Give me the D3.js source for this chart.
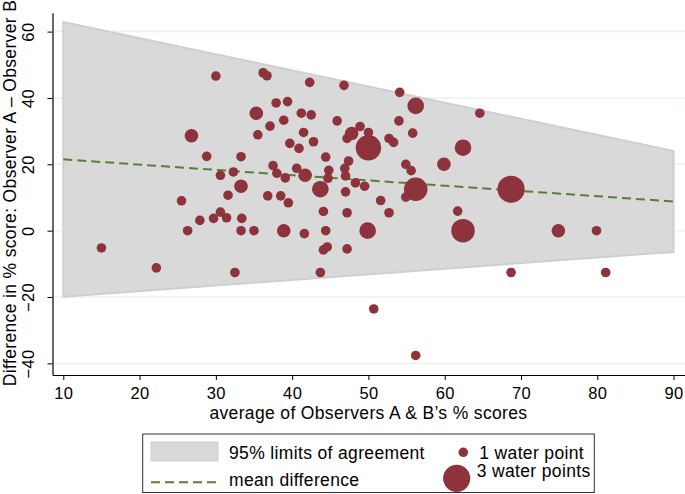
<!DOCTYPE html>
<html>
<head>
<meta charset="utf-8">
<script src="https://cdn.jsdelivr.net/npm/d3@7"></script>
<style>
  body { margin: 0; background: #fff; }
  text { font-family: "Liberation Sans", Arial, Helvetica, sans-serif; fill: #000; letter-spacing: 0.35px; }
</style>
</head>
<body>
<div id="chart-container"></div>
<script>
// BLAND-ALTMAN PLOT

// Data

var avgScore = [30.0, 26.8, 28.8, 33.3, 30.6, 32.3, 33.3, 31.6, 25.5, 35.3,
                36.2, 36.7, 42.3, 46.8, 54.1, 56.2, 37.9, 39.4, 41.2, 42.5,
                45.9, 54.0, 37.1, 38.9, 35.5, 41.5, 42.8, 39.7, 40.9, 48.9,
                50.0, 47.8, 47.2, 50.0, 52.7, 53.3, 55.8, 59.9, 37.5, 38.0,
                39.1, 40.6, 41.7, 44.4, 47.4, 44.8, 44.7, 46.9, 47.0, 48.3,
                49.5, 43.7, 47.0, 54.9, 55.6, 56.2, 54.9, 51.6, 52.7, 36.8,
                38.5, 39.5, 44.1, 47.2, 27.9, 29.7, 30.6, 31.4, 33.4, 33.3,
                35.0, 38.9, 41.6, 44.4, 49.9, 44.1, 44.6, 47.2, 64.6, 62.4,
                68.7, 61.7, 62.4, 74.9, 79.9, 15.0, 22.2, 32.5, 26.3, 43.7,
                68.7, 50.7, 56.2, 81.1];
var diffScore = [46.6, 28.6, 22.4, 22.3, 16.7, 17.7, 13.4, 10.7, 9.0, 35.4,
                 47.6, 46.7, 44.7, 43.8, 41.7, 37.6, 38.5, 38.9, 35.4, 34.9,
                 33.1, 33.1, 31.5, 33.3, 28.9, 29.6, 26.8, 26.3, 24.8, 31.4,
                 29.6, 29.3, 27.8, 25.0, 27.8, 26.6, 29.4, 20.0, 19.6, 17.3,
                 15.9, 18.8, 16.7, 22.2, 21.0, 18.2, 15.8, 18.8, 16.5, 14.4,
                 13.4, 12.5, 11.7, 20.0, 18.1, 12.5, 10.1, 9.1, 5.4, 10.5,
                 10.5, 8.4, 5.8, 5.4, 3.1, 3.7, 5.6, 3.9, 3.7, 0,
                 0, 0, -0.9, 0, 0, -5.8, -4.9, -5.5, 35.4, 25.0,
                 12.5, 5.9, 0, 0, 0, -5.2, -11.2, -12.6, 0, -12.6,
                 -12.6, -23.6, -37.6, -12.6];
var waterPoints = [1, 2, 1, 1, 1, 1, 2, 1, 1, 2,
                   1, 1, 1, 1, 1, 3, 1, 1, 1, 1,
                   1, 1, 1, 1, 1, 1, 1, 1, 1, 1,
                   1, 2, 1, 7, 1, 1, 1, 2, 1, 1,
                   1, 1, 2, 1, 1, 1, 1, 1, 1, 1,
                   1, 3, 1, 1, 1, 6, 1, 1, 1, 1,
                   1, 1, 1, 1, 1, 1, 1, 1, 1, 1,
                   1, 2, 1, 1, 3, 1, 1, 1, 1, 3,
                   8, 1, 6, 2, 1, 1, 1, 1, 1, 1,
                   1, 1, 1, 1];

// Limits of agreement and mean difference at the ends of the range
var loaX = [10, 90];
var loaUpper = [62.9, 24.0];
var loaLower = [-19.9, -6.4];
var meanDiff = [21.5, 8.8];

// Axis ticks
var xTicks = [10, 20, 30, 40, 50, 60, 70, 80, 90];
var yTicks = [-40, -20, 0, 20, 40, 60];

// Legend entries
var legendLabels = ["95% limits of agreement", "mean difference", "1 water point", "3 water points"];
var legendSizes = [1, 8];

var points = avgScore.map(function(d, i) {
    return {x: d, y: diffScore[i], n: waterPoints[i]};
});

// Chart variables

var W = 685, H = 494;
var plotLeft = 52.5, plotRight = 685, plotTop = 12.7, plotBottom = 375;
var dotColor = "#8e323b";
var fontSize = 17.5;

var svg = d3.select("#chart-container")
            .append("svg")
            .attr("width", W)
            .attr("height", H);

// Scales

var x = d3.scaleLinear()
          .domain([8.585, 91.5])
          .range([plotLeft, plotRight]);

var y = d3.scaleLinear()
          .domain([-43.5, 65.7])
          .range([plotBottom, plotTop]);

var r = d3.scaleSqrt()
          .domain([0, 1])
          .range([0, 4.8]);

// Gridlines

svg.append("g")
   .selectAll("line")
   .data(yTicks)
   .enter()
   .append("line")
   .attr("x1", plotLeft)
   .attr("x2", plotRight)
   .attr("y1", function(d) { return y(d); })
   .attr("y2", function(d) { return y(d); })
   .attr("stroke", "#eaf2f3")
   .attr("stroke-width", 1.5);

// Band of the limits of agreement

var loaData = loaX.map(function(d, i) { return {x: d, lo: loaLower[i], hi: loaUpper[i], m: meanDiff[i]}; });

svg.append("path")
   .datum(loaData)
   .attr("d", d3.area()
                .x(function(d) { return x(d.x); })
                .y0(function(d) { return y(d.lo); })
                .y1(function(d) { return y(d.hi); }))
   .attr("fill", "#d9d9d9")
   .attr("stroke", "#cfcfcf")
   .attr("stroke-width", 2)
   .attr("stroke-linejoin", "round");

// Mean difference line

svg.append("path")
   .datum(loaData)
   .attr("d", d3.line()
                .x(function(d) { return x(d.x); })
                .y(function(d) { return y(d.m); }))
   .attr("fill", "none")
   .attr("stroke", "#5b7f33")
   .attr("stroke-width", 2)
   .attr("stroke-dasharray", "9,5");

// Points

svg.append("g")
   .selectAll("circle")
   .data(points)
   .enter()
   .append("circle")
   .attr("cx", function(d) { return x(d.x); })
   .attr("cy", function(d) { return y(d.y); })
   .attr("r", function(d) { return r(d.n); })
   .attr("fill", dotColor);

// Axes

var xAxis = svg.append("g")
               .attr("transform", "translate(0," + plotBottom + ")")
               .call(d3.axisBottom(x).tickValues(xTicks).tickSize(5).tickSizeOuter(0));

var yAxis = svg.append("g")
               .attr("transform", "translate(" + plotLeft + ",0)")
               .call(d3.axisLeft(y).tickValues(yTicks).tickSize(5).tickSizeOuter(0)
                       .tickFormat(function(d) { return d < 0 ? "\u2212" + Math.abs(d) : d; }));

[xAxis, yAxis].forEach(function(a) {
    a.select(".domain").attr("stroke", "#000").attr("stroke-width", 1.2);
    a.selectAll(".tick line").attr("stroke", "#000").attr("stroke-width", 1);
    a.selectAll(".tick text").attr("font-size", 16.5).attr("fill", "#000")
     .style("font-family", "'Liberation Sans', Arial, sans-serif");
});

xAxis.selectAll(".tick text").attr("y", 24).attr("dy", null);

yAxis.selectAll(".tick text")
     .attr("x", null).attr("dy", null)
     .attr("text-anchor", "middle")
     .attr("transform", "translate(-18.5,0) rotate(-90)");

// Axis titles

svg.append("text")
   .attr("x", x(50))
   .attr("y", 419)
   .attr("text-anchor", "middle")
   .attr("font-size", fontSize)
   .text("average of Observers A & B\u2019s % scores");

svg.append("text")
   .attr("transform", "translate(16,193) rotate(-90)")
   .attr("text-anchor", "middle")
   .attr("font-size", fontSize)
   .text("Difference in % score: Observer A \u2013 Observer B");

// Legend

var legend = svg.append("g");

legend.append("rect")
      .attr("x", 142.7).attr("y", 434)
      .attr("width", 451.6).attr("height", 58.5)
      .attr("fill", "#fff")
      .attr("stroke", "#333")
      .attr("stroke-width", 1);

legend.append("rect")
      .attr("x", 151).attr("y", 442)
      .attr("width", 67).attr("height", 19)
      .attr("fill", "#d9d9d9")
      .attr("stroke", "#cfcfcf");

legend.append("line")
      .attr("x1", 151).attr("x2", 218)
      .attr("y1", 482.3).attr("y2", 482.3)
      .attr("stroke", "#5b7f33")
      .attr("stroke-width", 2)
      .attr("stroke-dasharray", "9,5");

legend.append("circle")
      .attr("cx", 463.3).attr("cy", 452.3)
      .attr("r", r(legendSizes[0]))
      .attr("fill", dotColor);

legend.append("circle")
      .attr("cx", 456.7).attr("cy", 478.3)
      .attr("r", r(legendSizes[1]))
      .attr("fill", dotColor);

var legendPos = [[229, 459], [229, 486], [479.3, 459], [476.7, 477]];

legend.selectAll("text")
      .data(legendLabels)
      .enter()
      .append("text")
      .attr("x", function(d, i) { return legendPos[i][0]; })
      .attr("y", function(d, i) { return legendPos[i][1]; })
      .attr("font-size", fontSize)
      .text(function(d) { return d; });
</script>
</body>
</html>
